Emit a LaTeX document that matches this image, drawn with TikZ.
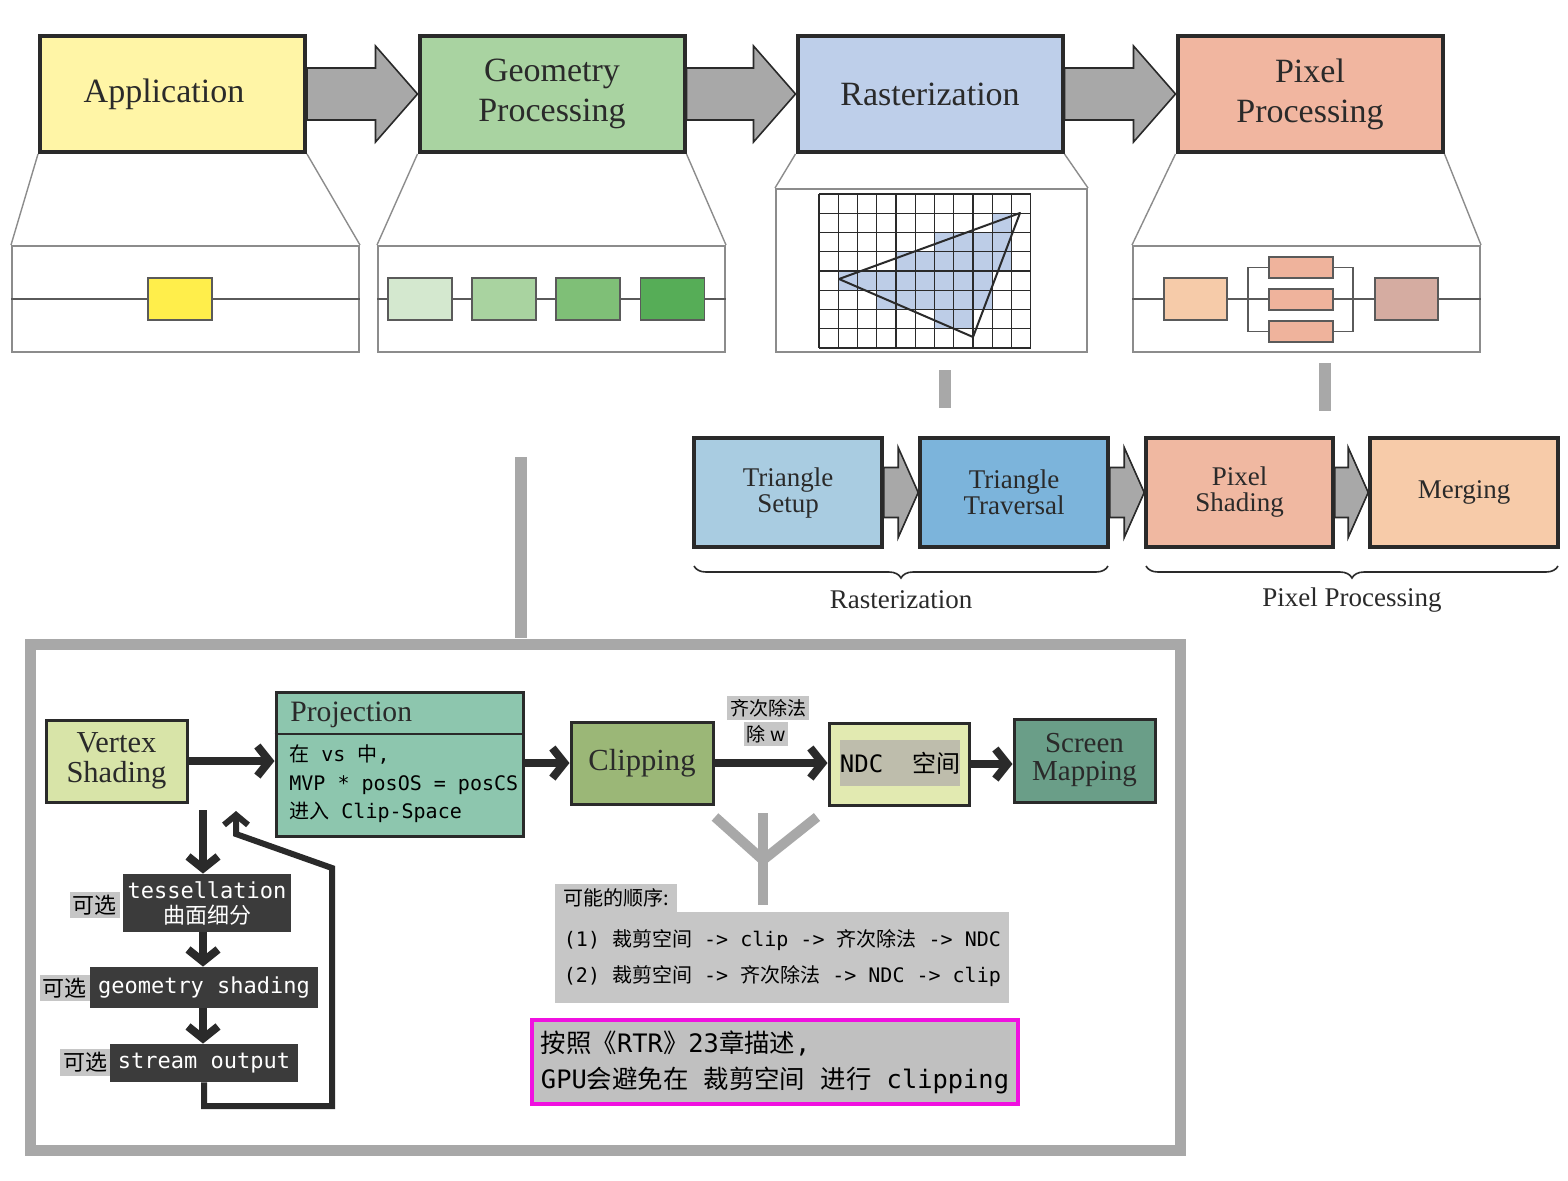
\documentclass[tikz,border=0pt]{standalone}
\usepackage{fontspec}
\setmainfont{Liberation Serif}
\newfontfamily\cjk{Noto Sans CJK SC}
\newfontfamily\mono{DejaVu Sans Mono}
\newcommand\C[1]{{\cjk #1}}
\usetikzlibrary{arrows.meta,decorations.pathreplacing,calc}

\definecolor{dark}{HTML}{2A2A2A}
\definecolor{barg}{HTML}{A8A8A8}
\definecolor{panelg}{HTML}{8C8C8C}
\definecolor{inlc}{HTML}{5A5A5A}
\definecolor{appc}{HTML}{FFF5A6}
\definecolor{geoc}{HTML}{A9D3A1}
\definecolor{rastc}{HTML}{BECFEA}
\definecolor{pixc}{HTML}{F1B6A0}
\definecolor{appS}{HTML}{FFEE4B}
\definecolor{geoA}{HTML}{D4E8CF}
\definecolor{geoB}{HTML}{A9D3A0}
\definecolor{geoC}{HTML}{7FBF77}
\definecolor{geoD}{HTML}{56AD57}
\definecolor{pixA}{HTML}{F6CBA9}
\definecolor{pixM}{HTML}{EFB39C}
\definecolor{pixB}{HTML}{D5ACA1}
\definecolor{cellc}{HTML}{BDCDE7}
\definecolor{tsc}{HTML}{A9CCE1}
\definecolor{ttc}{HTML}{7CB4DB}
\definecolor{psc}{HTML}{F0B8A1}
\definecolor{mgc}{HTML}{F7CBA9}
\definecolor{vsc}{HTML}{D8E4A8}
\definecolor{projc}{HTML}{8DC6AE}
\definecolor{clipc}{HTML}{9BB777}
\definecolor{ndcc}{HTML}{E2EAB1}
\definecolor{ndci}{HTML}{BEBDAC}
\definecolor{smc}{HTML}{6A9E88}
\definecolor{darkbg}{HTML}{3B3B3B}
\definecolor{lgray}{HTML}{C6C6C6}
\definecolor{magbox}{HTML}{C0C0C0}
\definecolor{magent}{HTML}{F010E0}

\tikzset{
 topbox/.style={draw=dark, line width=2pt, minimum width=132.5pt, minimum height=58pt, inner sep=0pt, align=center, font=\fontsize{17}{20}\selectfont, text=dark},
 panel/.style={draw=panelg, line width=1pt, fill=white, inner sep=0pt},
 inl/.style={draw=inlc, line width=0.7pt},
 sbox/.style={draw=inlc, line width=0.6pt, minimum width=32pt, minimum height=21pt, inner sep=0pt},
 trap/.style={draw=panelg, line width=0.7pt},
 gridl/.style={draw=dark, line width=0.6pt},
 midbox/.style={draw=dark, line width=1.8pt, minimum width=94pt, minimum height=54.5pt, inner sep=0pt, align=center, font=\fontsize{13.5}{13}\selectfont, text=dark},
 botbox/.style={draw=dark, line width=1.5pt, inner sep=0pt, align=center, text=dark},
 blockarr/.style={fill=barg, draw=dark, line width=0.8pt, line join=miter},
 gbar/.style={draw=barg, line width=6pt},
 ybar/.style={draw=barg, line width=5pt},
 darr/.style={draw=dark, line width=4pt, -{Straight Barb[length=6pt,width=15pt]}},
 loopa/.style={draw=dark, line width=3pt, line join=miter, -{Straight Barb[length=5pt,width=12pt]}},
 darkbox/.style={fill=darkbg, draw=none, text=white, inner sep=0pt, font=\mono\fontsize{11}{12.5}\selectfont, align=center},
 optl/.style={fill=lgray, inner sep=1.5pt, font=\cjk\fontsize{11}{12}\selectfont},
 bracel/.style={draw=dark, line width=0.8pt, decorate, decoration={brace, mirror, amplitude=6pt}},
}

% block arrow between two nodes: #3 shaft half, #4 head half, #5 head length
\newcommand\blockarrow[5]{%
 \path[blockarr] let \p1=(#1.east), \p2=(#2.west) in
   (\x1,\y1+#3) -- (\x2-#5,\y1+#3) -- (\x2-#5,\y1+#4) -- (\x2,\y1) --
   (\x2-#5,\y1-#4) -- (\x2-#5,\y1-#3) -- (\x1,\y1-#3) -- cycle;}

\begin{document}
\begin{tikzpicture}[x=0.5pt,y=-0.5pt]
\useasboundingbox (0,0) rectangle (1568,1180);
\fill[white] (0,0) rectangle (1568,1180);

% ---------- top row ----------
\node[topbox, fill=appc] (app) at (172.5,94) {Application\hspace*{8.5pt}};
\node[topbox, fill=geoc] (geo) at (552,94) {Geometry\\Processing};
\node[topbox, fill=rastc] (rast) at (930,94) {Rasterization};
\node[topbox, fill=pixc] (pix) at (1310,94) {Pixel\\Processing};

\blockarrow{app}{geo}{13pt}{24pt}{21pt}
\blockarrow{geo}{rast}{13pt}{24pt}{21pt}
\blockarrow{rast}{pix}{13pt}{24pt}{21pt}

% panels
\node[panel, minimum width=173.5pt, minimum height=53pt] (appP) at (185.5,299) {};
\node[panel, minimum width=173.5pt, minimum height=53pt] (geoP) at (551.5,299) {};
\node[panel, minimum width=155.5pt, minimum height=81.5pt] (rastP) at (931.5,270.5) {};
\node[panel, minimum width=173.5pt, minimum height=53pt] (pixP) at (1306.5,299) {};

\draw[trap] (app.south west) -- (appP.north west) (app.south east) -- (appP.north east);
\draw[trap] (geo.south west) -- (geoP.north west) (geo.south east) -- (geoP.north east);
\draw[trap] (rast.south west) -- (rastP.north west) (rast.south east) -- (rastP.north east);
\draw[trap] (pix.south west) -- (pixP.north west) (pix.south east) -- (pixP.north east);

% application panel
\draw[inl] (appP.west) -- (appP.east);
\node[sbox, fill=appS] (appS1) at (180,299) {};

% geometry panel
\draw[inl] (geoP.west) -- (geoP.east);
\node[sbox, fill=geoA] (g1) at (420,299) {};
\node[sbox, fill=geoB] (g2) at (504,299) {};
\node[sbox, fill=geoC] (g3) at (588,299) {};
\node[sbox, fill=geoD] (g4) at (672.5,299) {};

% rasterization grid
\foreach \r/\a/\b in {1/9/9, 2/6/9, 3/4/9, 4/1/8, 5/3/8, 6/6/7}{
  \foreach \c in {\a,...,\b}{
    \fill[cellc] (819+\c*19.25,194+\r*19.25) rectangle ++(19.25,19.25);
  }
}
\foreach \i in {0,...,11} \draw[gridl] (819+\i*19.25,194) -- (819+\i*19.25,348);
\foreach \j in {0,...,8} \draw[gridl] (819,194+\j*19.25) -- (1030.75,194+\j*19.25);
\draw[draw=dark, line width=1pt, line join=round] (839,279) -- (1020,213) -- (973,337) -- cycle;

% pixel panel
\coordinate (bl) at (1248,299);
\coordinate (br) at (1353,299);
\draw[inl] (pixP.west) -- (pixP.east);
\node[sbox, fill=pixA, minimum width=31.5pt] (p1) at (1195.5,299) {};
\node[sbox, fill=pixM, minimum height=10.5pt] (pm1) at (1301,267.5) {};
\node[sbox, fill=pixM, minimum height=10.5pt] (pm2) at (1301,299.5) {};
\node[sbox, fill=pixM, minimum height=10.5pt] (pm3) at (1301,331.5) {};
\draw[inl] (pm1.west) -| (bl) |- (pm3.west);
\draw[inl] (pm1.east) -| (br) |- (pm3.east);
\node[sbox, fill=pixB, minimum width=31.5pt] (p3) at (1406.5,299) {};

% gray stubs
\coordinate (s1a) at (945,370); \coordinate (s1b) at (945,408);
\coordinate (s2a) at (1325,363); \coordinate (s2b) at (1325,411);
\draw[gbar] (s1a) -- (s1b);
\draw[gbar] (s2a) -- (s2b);

% ---------- middle row ----------
\node[midbox, fill=tsc] (ts) at (788,492.5) {Triangle\\Setup};
\node[midbox, fill=ttc] (tt) at (1014,492.5) {Triangle\\Traversal};
\node[midbox, fill=psc, minimum width=93.5pt] (ps) at (1239.5,492.5) {Pixel\\Shading};
\node[midbox, fill=mgc] (mg) at (1464,492.5) {Merging};
\blockarrow{ts}{tt}{12.5pt}{22.5pt}{10pt}
\blockarrow{tt}{ps}{12.5pt}{22.5pt}{10pt}
\blockarrow{ps}{mg}{12.5pt}{22.5pt}{10pt}

\coordinate (b1a) at (694,566); \coordinate (b1b) at (1108,566);
\coordinate (b2a) at (1146,566); \coordinate (b2b) at (1558,566);
\draw[bracel] (b1a) -- (b1b);
\draw[bracel] (b2a) -- (b2b);
\node[font=\fontsize{13.5}{14}\selectfont, text=dark] (lr) at (901,600) {Rasterization};
\node[font=\fontsize{13.5}{14}\selectfont, text=dark] (lp) at (1352,600) {Pixel Processing};

% ---------- bottom frame ----------
\coordinate (c1) at (521,457); \coordinate (c2) at (521,638);
\draw[gbar] (c1) -- (c2);
\draw[draw=barg, line width=5.5pt] (30,644) rectangle (1180,1150);

\node[botbox, fill=vsc, minimum width=70.5pt, minimum height=41pt, font=\fontsize{15.25}{15}\selectfont] (vs) at (116.5,761) {Vertex\\Shading};
\node[botbox, fill=projc, minimum width=123.5pt, minimum height=72pt] (proj) at (399.5,764) {};
\draw[draw=dark, line width=1.2pt] (proj.west |- 0,734) -- (proj.east |- 0,734);
\node[anchor=west, inner sep=0pt, text=dark, font=\fontsize{14.8}{15}\selectfont] (projT) at (290,715) {Projection};
\node[anchor=west, inner sep=0pt, align=left, text=black, font=\mono\fontsize{10}{14.25}\selectfont] (projB) at (289,784)
  {\C{在} vs \C{中},\\MVP * posOS = posCS\\\C{进入} Clip-Space};
\node[botbox, fill=clipc, minimum width=71pt, minimum height=41pt, font=\fontsize{15.3}{15}\selectfont] (clip) at (642,763) {Clipping};
\node[botbox, fill=ndcc, minimum width=70pt, minimum height=41pt] (ndc) at (899,764) {};
\node[fill=ndci, minimum width=58pt, minimum height=23pt, inner sep=0pt, font=\mono\fontsize{12}{13}\selectfont] (ndcI) at (900,763) {NDC\ \ \C{空间}};
\node[botbox, fill=smc, minimum width=70.5pt, minimum height=41.5pt, font=\fontsize{14.5}{14}\selectfont] (sm) at (1084.5,760.5) {Screen\\Mapping};

\draw[darr] (vs.east) -- (vs.east -| proj.west);
\draw[darr] (proj.east |- clip.west) -- (clip.west);
\draw[darr] (clip.east) -- (clip.east -| ndc.west);
\draw[darr] (ndc.east) -- (ndc.east -| sm.west);

\node[fill=lgray, inner sep=1.5pt, font=\cjk\fontsize{9.5}{10}\selectfont] (lab1) at (768,708) {齐次除法};
\node[fill=lgray, inner sep=1.5pt, font=\cjk\fontsize{9.5}{10}\selectfont] (lab2) at (766,734) {除 w};

% Y shape
\draw[ybar] (715,817) -- (763,860) -- (817,817);
\draw[ybar] (763,813) -- (763,905);

% order box
\node[fill=lgray, inner xsep=4pt, inner ysep=0pt, minimum height=14.5pt, anchor=south west, font=\cjk\fontsize{10}{11}\selectfont] (ordH) at (555,913) {可能的顺序:};
\node[fill=lgray, minimum width=227pt, minimum height=45.5pt, inner sep=0pt, anchor=north west, align=left, font=\mono\fontsize{10}{18}\selectfont] (ordB) at (555,912)
  {(1) \C{裁剪空间} -> clip -> \C{齐次除法} -> NDC\\(2) \C{裁剪空间} -> \C{齐次除法} -> NDC -> clip};

% note box
\node[fill=magbox, draw=magent, line width=2pt, minimum width=243pt, minimum height=42pt, inner sep=0pt, align=left, font=\mono\fontsize{12.7}{18}\selectfont] (note) at (775,1062)
  {\C{按照《}RTR\C{》}23\C{章描述},\\GPU\C{会避免在} \C{裁剪空间} \C{进行} clipping};

% dark chain
\node[darkbox, minimum width=84pt, minimum height=29pt] (tess) at (207,903) {tessellation\\\C{曲面细分}};
\node[darkbox, minimum width=114pt, minimum height=20.5pt] (geom) at (204,987.5) {geometry shading};
\node[darkbox, minimum width=94pt, minimum height=19pt] (strm) at (204,1063) {stream output};
\node[optl] (o1) at (94.5,905) {可选};
\node[optl] (o2) at (64.5,988) {可选};
\node[optl] (o3) at (85,1062.5) {可选};

\coordinate (d0) at (203,810);
\draw[darr] (d0) -- (d0 |- tess.north);
\draw[darr] (d0 |- tess.south) -- (d0 |- geom.north);
\draw[darr] (d0 |- geom.south) -- (d0 |- strm.north);

\coordinate (l1) at (332,1106);
\coordinate (l2) at (332,868);
\coordinate (l3) at (236,834);
\coordinate (l4) at (236,811);
\draw[loopa] (strm.south) |- (l1) -- (l2) -- (l3) -- (l4);
\end{tikzpicture}
\end{document}
